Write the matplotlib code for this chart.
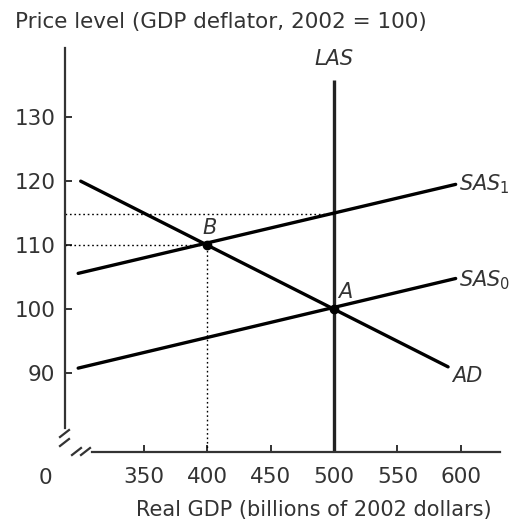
import matplotlib
matplotlib.use("Agg")
import matplotlib.pyplot as plt
from matplotlib.lines import Line2D

# ---- data ----
x_ticks = [350, 400, 450, 500, 550, 600]
y_ticks = [90, 100, 110, 120, 130]
ad_x = [300, 590]
ad_y = [120, 91]
sas0_x = [298, 596]
sas0_y = [90.8, 104.8]
sas1_x = [298, 596]
sas1_y = [105.6, 119.5]
las_x = [500, 500]
las_y = [77.7, 135.8]
point_B = (400, 110)
point_A = (500, 100)
p_sas1_at_las = 114.8

W, H = 515, 527
fig = plt.figure(figsize=(W / 100, H / 100), dpi=100)
plt.rcParams['font.family'] = ['DejaVu Sans']
txt = '#333333'

left, right, bottom, top = 65 / W, 500 / W, (H - 452) / H, (H - 48) / H
ax = fig.add_axes([left, bottom, right - left, top - bottom])
ax.set_xlim(287.6, 631)
ax.set_ylim(77.7, 140.8)

for s in ['top', 'right']:
    ax.spines[s].set_visible(False)
for s in ['left', 'bottom']:
    ax.spines[s].set_linewidth(1.6)
    ax.spines[s].set_color('#333333')
ax.spines['left'].set_bounds(81.4, 140.8)
ax.spines['bottom'].set_bounds(309, 631)

ax.set_xticks(x_ticks)
ax.set_yticks(y_ticks)
ax.set_xticklabels([str(v) for v in x_ticks])
ax.set_yticklabels([str(v) for v in y_ticks])
ax.tick_params(axis='both', direction='in', length=5, width=1.4, color='#333333',
               labelsize=15.5, labelcolor=txt)
ax.tick_params(axis='x', pad=11)
ax.tick_params(axis='y', pad=7)

# dotted guide lines
ax.plot([287.6, point_B[0]], [point_B[1], point_B[1]], ls=(0, (1.2, 2)), color='black', lw=1.0)
ax.plot([point_B[0], point_B[0]], [77.7, point_B[1]], ls=(0, (1.2, 2)), color='black', lw=1.0)
ax.plot([287.6, 500], [p_sas1_at_las, p_sas1_at_las], ls=(0, (1.2, 2)), color='black', lw=1.0)

# curves
lw = 2.4
ax.plot(las_x, las_y, color='#222222', lw=lw, solid_capstyle='butt')
ax.plot(ad_x, ad_y, color='black', lw=lw, solid_capstyle='round')
ax.plot(sas0_x, sas0_y, color='black', lw=lw, solid_capstyle='round')
ax.plot(sas1_x, sas1_y, color='black', lw=lw, solid_capstyle='round')

# points
ax.plot(*point_B, 'o', color='black', ms=6)
ax.plot(*point_A, 'o', color='black', ms=6)

# curve labels
fs = 15
ax.text(500, 137.5, 'LAS', style='italic', fontsize=fs, color=txt, ha='center', va='bottom')
ax.text(599, 119.5, r'$\mathit{SAS}_1$', fontsize=fs, color=txt, ha='left', va='center')
ax.text(599, 104.6, r'$\mathit{SAS}_0$', fontsize=fs, color=txt, ha='left', va='center')
ax.text(593, 89.5, 'AD', style='italic', fontsize=fs, color=txt, ha='left', va='center')
ax.text(402, 111.2, 'B', style='italic', fontsize=fs, color=txt, ha='center', va='bottom')
ax.text(503, 101.2, 'A', style='italic', fontsize=fs, color=txt, ha='left', va='bottom')

# axis break marks
def px(x, y):
    return (x / W, (H - y) / H)

for (x0, y0, x1, y1) in [(60, 437, 69, 430), (60, 446, 69, 439),
                         (72, 455, 81, 448), (81, 455, 90, 448)]:
    a, b = px(x0, y0)
    c, d = px(x1, y1)
    fig.add_artist(Line2D([a, c], [b, d], color='#333333', lw=1.6))

# axis labels
fig.text(15 / W, (H - 22) / H, 'Price level (GDP deflator, 2002 = 100)', fontsize=15.5,
         color=txt, ha='left', va='center')
fig.text(492 / W, (H - 510) / H, 'Real GDP (billions of 2002 dollars)', fontsize=15,
         color=txt, ha='right', va='center')
fig.text(45 / W, (H - 478) / H, '0', fontsize=15.5, color=txt, ha='center', va='center')

fig.savefig('out.png', dpi=100)
